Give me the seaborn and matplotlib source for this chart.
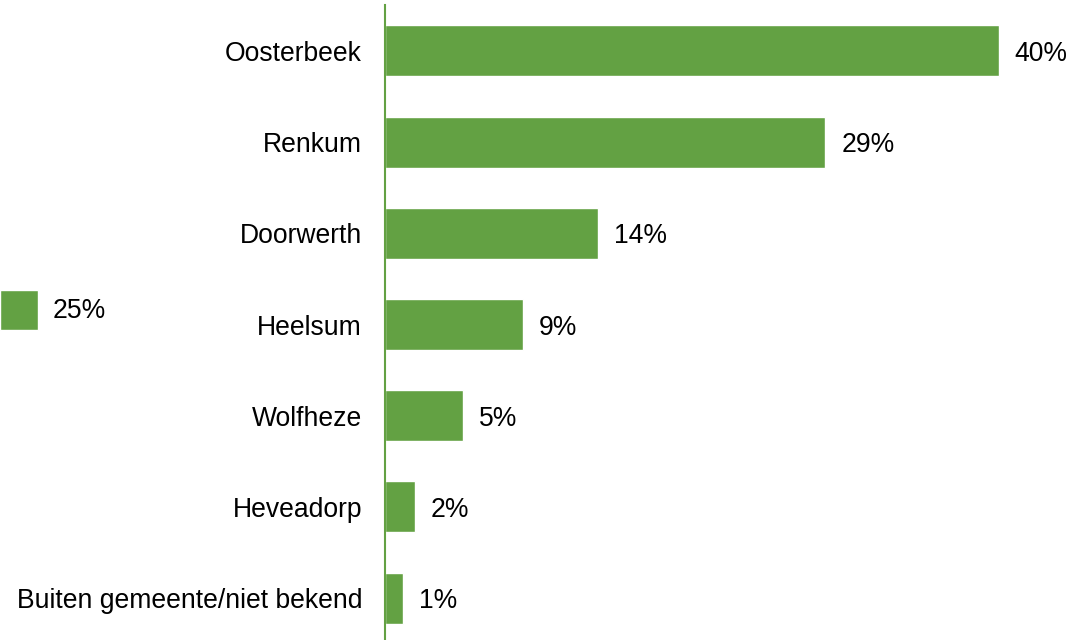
import pandas as pd
import seaborn as sns
import matplotlib.pyplot as plt

# data
places = ["Oosterbeek", "Renkum", "Doorwerth", "Heelsum", "Wolfheze",
          "Heveadorp", "Buiten gemeente/niet bekend"]
shares = [40, 28.7, 13.9, 9.0, 5.1, 1.95, 1.2]
series_name = "25%"

green = "#63A143"
fs = 19.1

def main():
    df = pd.DataFrame({"plaats": places, "aandeel": shares})

    sns.set_style("white")
    plt.rcParams["font.family"] = ["Liberation Sans", "DejaVu Sans"]
    plt.rcParams["text.color"] = "black"
    plt.rcParams["ytick.color"] = "black"

    fig = plt.figure(figsize=(10.8, 6.4), dpi=100)
    ax = fig.add_axes([385 / 1080, 0, 695 / 1080, 635 / 640])

    sns.barplot(data=df, x="aandeel", y="plaats", orient="h", color=green,
                saturation=1, width=0.56, label=series_name, ax=ax)

    for c in ax.containers:
        texts = ax.bar_label(c, labels=[f"{round(v)}%" for v in shares],
                             padding=11.5, fontsize=fs, color="black")
        for t in texts:
            t.set_va("center_baseline")

    ax.set_xlim(0, 45.3)
    ax.set_ylim(6.46, -0.504)
    ax.set_xlabel("")
    ax.set_ylabel("")
    ax.set_xticks([])
    ax.tick_params(axis="y", length=0, pad=16.5, labelsize=fs, labelcolor="black")
    for s in ["top", "right", "bottom"]:
        ax.spines[s].set_visible(False)
    ax.spines["left"].set_color(green)
    ax.spines["left"].set_linewidth(1.5)

    # odd leftover legend on the left of the original
    ax.legend(loc="center left", bbox_to_anchor=(0, 1 - 310 / 640),
              bbox_transform=fig.transFigure, frameon=False, borderpad=0,
              borderaxespad=0, handlelength=1.42, handleheight=1.93,
              handletextpad=0.57, fontsize=fs)

    plt.savefig("out.png", dpi=100)

if __name__ == '__main__':
    main()
